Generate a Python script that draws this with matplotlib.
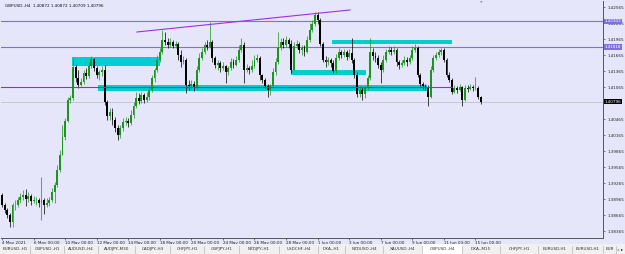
import matplotlib
matplotlib.use("Agg")
import matplotlib.pyplot as plt
from matplotlib.patches import Rectangle
from matplotlib.transforms import blended_transform_factory

# GBPUSD.,H4 candles (4 May - 15 Jun 2021)
first_open = 1.3904
closes = [1.3886, 1.3876, 1.3867, 1.3854, 1.3886, 1.3886, 1.3895, 1.3901, 1.3904, 1.3897,
          1.3903, 1.3893, 1.3895, 1.3895, 1.3889, 1.3895, 1.3886, 1.3889, 1.3895, 1.3910,
          1.3923, 1.3951, 1.3979, 1.4013, 1.4043, 1.4083, 1.4086, 1.4144, 1.4124, 1.4111,
          1.4116, 1.4133, 1.4128, 1.4146, 1.4159, 1.4143, 1.4129, 1.4135, 1.4139, 1.4079,
          1.4053, 1.4060, 1.4045, 1.4030, 1.4017, 1.4030, 1.4041, 1.4043, 1.4039, 1.4054,
          1.4071, 1.4086, 1.4081, 1.4092, 1.4083, 1.4088, 1.4101, 1.4124, 1.4139, 1.4158,
          1.4173, 1.4195, 1.4191, 1.4186, 1.4191, 1.4184, 1.4188, 1.4167, 1.4154, 1.4158,
          1.4111, 1.4109, 1.4113, 1.4107, 1.4139, 1.4161, 1.4173, 1.4186, 1.4182, 1.4191,
          1.4161, 1.4148, 1.4152, 1.4143, 1.4146, 1.4135, 1.4143, 1.4154, 1.4148, 1.4158,
          1.4176, 1.4186, 1.4139, 1.4143, 1.4139, 1.4146, 1.4158, 1.4161, 1.4129, 1.4120,
          1.4109, 1.4101, 1.4109, 1.4135, 1.4154, 1.4180, 1.4191, 1.4186, 1.4195, 1.4188,
          1.4139, 1.4184, 1.4188, 1.4176, 1.4180, 1.4173, 1.4195, 1.4214, 1.4225, 1.4242,
          1.4233, 1.4188, 1.4158, 1.4154, 1.4158, 1.4152, 1.4137, 1.4161, 1.4173, 1.4167,
          1.4173, 1.4163, 1.4171, 1.4158, 1.4129, 1.4094, 1.4101, 1.4094, 1.4105, 1.4124,
          1.4173, 1.4165, 1.4161, 1.4148, 1.4139, 1.4158, 1.4173, 1.4176, 1.4173, 1.4176,
          1.4154, 1.4148, 1.4152, 1.4158, 1.4154, 1.4161, 1.4176, 1.4180, 1.4129, 1.4113,
          1.4109, 1.4107, 1.4088, 1.4139, 1.4161, 1.4167, 1.4173, 1.4176, 1.4158, 1.4129,
          1.4120, 1.4098, 1.4105, 1.4101, 1.4107, 1.4083, 1.4105, 1.4103, 1.4107, 1.4105,
          1.4105, 1.4088, 1.40796]
highs = [1.3908, 1.3889, 1.3880, 1.3871, 1.3889, 1.3895, 1.3901, 1.3908, 1.3914, 1.3916,
         1.3910, 1.3906, 1.3903, 1.3901, 1.3899, 1.3938, 1.3899, 1.3899, 1.3901, 1.3918,
         1.3929, 1.3961, 1.3989, 1.4036, 1.4049, 1.4088, 1.4092, 1.4161, 1.4148, 1.4139,
         1.4124, 1.4139, 1.4143, 1.4154, 1.4165, 1.4161, 1.4146, 1.4139, 1.4146, 1.4148,
         1.4083, 1.4068, 1.4068, 1.4051, 1.4036, 1.4036, 1.4049, 1.4051, 1.4049, 1.4064,
         1.4079, 1.4098, 1.4096, 1.4098, 1.4096, 1.4098, 1.4105, 1.4129, 1.4143, 1.4167,
         1.4180, 1.4214, 1.4210, 1.4199, 1.4199, 1.4195, 1.4193, 1.4191, 1.4176, 1.4165,
         1.4161, 1.4120, 1.4120, 1.4118, 1.4146, 1.4171, 1.4180, 1.4191, 1.4195, 1.4229,
         1.4195, 1.4165, 1.4158, 1.4156, 1.4154, 1.4148, 1.4146, 1.4161, 1.4159, 1.4165,
         1.4186, 1.4199, 1.4191, 1.4150, 1.4146, 1.4158, 1.4167, 1.4169, 1.4165, 1.4131,
         1.4124, 1.4113, 1.4113, 1.4143, 1.4161, 1.4210, 1.4199, 1.4199, 1.4203, 1.4199,
         1.4195, 1.4191, 1.4195, 1.4191, 1.4186, 1.4186, 1.4203, 1.4227, 1.4233, 1.4248,
         1.4248, 1.4236, 1.4191, 1.4165, 1.4163, 1.4161, 1.4158, 1.4169, 1.4180, 1.4176,
         1.4178, 1.4176, 1.4178, 1.4199, 1.4161, 1.4135, 1.4109, 1.4107, 1.4109, 1.4129,
         1.4199, 1.4180, 1.4173, 1.4167, 1.4154, 1.4167, 1.4178, 1.4184, 1.4182, 1.4184,
         1.4180, 1.4158, 1.4158, 1.4165, 1.4163, 1.4167, 1.4184, 1.4188, 1.4184, 1.4133,
         1.4116, 1.4113, 1.4111, 1.4146, 1.4167, 1.4173, 1.4178, 1.4180, 1.4180, 1.4161,
         1.4135, 1.4124, 1.4111, 1.4109, 1.4113, 1.4109, 1.4111, 1.4111, 1.4113, 1.4111,
         1.4126, 1.4109, 1.4090]
lows = [1.3882, 1.3871, 1.3861, 1.3844, 1.3844, 1.3876, 1.3882, 1.3889, 1.3895, 1.3884,
        1.3891, 1.3886, 1.3889, 1.3886, 1.3882, 1.3858, 1.3869, 1.3882, 1.3884, 1.3891,
        1.3889, 1.3919, 1.3948, 1.3979, 1.4008, 1.4041, 1.4077, 1.4083, 1.4116, 1.4105,
        1.4109, 1.4113, 1.4122, 1.4124, 1.4143, 1.4137, 1.4124, 1.4120, 1.4128, 1.4073,
        1.4045, 1.4045, 1.4036, 1.4023, 1.4008, 1.4011, 1.4024, 1.4036, 1.4032, 1.4036,
        1.4049, 1.4068, 1.4075, 1.4077, 1.4077, 1.4079, 1.4083, 1.4098, 1.4116, 1.4135,
        1.4154, 1.4169, 1.4186, 1.4180, 1.4182, 1.4180, 1.4180, 1.4158, 1.4144, 1.4150,
        1.4096, 1.4101, 1.4103, 1.4099, 1.4101, 1.4135, 1.4158, 1.4169, 1.4176, 1.4180,
        1.4154, 1.4143, 1.4139, 1.4135, 1.4139, 1.4114, 1.4129, 1.4139, 1.4143, 1.4146,
        1.4154, 1.4173, 1.4114, 1.4135, 1.4131, 1.4135, 1.4143, 1.4154, 1.4120, 1.4114,
        1.4105, 1.4088, 1.4092, 1.4105, 1.4129, 1.4150, 1.4176, 1.4180, 1.4182, 1.4180,
        1.4133, 1.4139, 1.4180, 1.4171, 1.4167, 1.4165, 1.4171, 1.4191, 1.4210, 1.4221,
        1.4225, 1.4184, 1.4154, 1.4144, 1.4148, 1.4144, 1.4133, 1.4133, 1.4158, 1.4161,
        1.4163, 1.4158, 1.4161, 1.4152, 1.4124, 1.4088, 1.4088, 1.4083, 1.4086, 1.4101,
        1.4120, 1.4158, 1.4154, 1.4143, 1.4114, 1.4135, 1.4154, 1.4169, 1.4167, 1.4169,
        1.4146, 1.4141, 1.4144, 1.4148, 1.4146, 1.4150, 1.4158, 1.4173, 1.4126, 1.4109,
        1.4103, 1.4101, 1.4071, 1.4086, 1.4135, 1.4158, 1.4163, 1.4167, 1.4154, 1.4126,
        1.4116, 1.4094, 1.4096, 1.4096, 1.4099, 1.4071, 1.4081, 1.4098, 1.4101, 1.4099,
        1.4101, 1.4084, 1.4075]

time_labels = ["4 May 2021", "6 May 00:00", "10 May 00:00", "12 May 00:00", "14 May 00:00",
               "18 May 00:00", "20 May 00:00", "24 May 00:00", "26 May 00:00", "28 May 00:00",
               "1 Jun 00:00", "3 Jun 00:00", "7 Jun 00:00", "9 Jun 00:00", "11 Jun 00:00",
               "15 Jun 00:00"]
price_ticks = [1.42565, 1.42265, 1.41965, 1.41665, 1.41365, 1.41065, 1.40765, 1.40465,
               1.40165, 1.39865, 1.39565, 1.39265, 1.38965, 1.38665, 1.38365]

# drawn objects
levels = [1.42303, 1.41818]
support = (0, 171, 1.41069)
trend = [(51.3, 132.3), (1.4210, 1.42513)]
zones = [(26.6, 60.1, 1.41463, 1.41631),
         (36.5, 161.6, 1.40994, 1.41106),
         (109.9, 138.4, 1.41294, 1.41388),
         (125.5, 171.1, 1.41875, 1.41950)]
header = "GBPUSD.,H4  1.40872 1.40872 1.40709 1.40796"

tabs = ["EURUSD.,H1", "GBPUSD.,H1", "AUDUSD.,H4", "AUDJPY.,M30", "CADJPY.,H4", "CHFJPY.,H1",
        "GBPJPY.,H1", "NZDJPY.,H1", "USDCHF.,H4", "DXA-,H1", "NZDUSD.,H4", "XAUUSD.,H4",
        "GBPUSD.,H4", "DXA-,M15", "CHFJPY.,H1", "EURUSD,H1", "EURUSD,H1", "EUR"]
tab_edges = [0, 30, 64, 98, 135, 170, 204, 239, 279, 318, 345, 383, 422, 462, 500, 538,
             572, 603, 616]
active_tab = 12

bg = "#E6E6FA"
bull = "#1A961A"
bear = "#000000"
fs = 3.0

W, H = 625, 254
fig = plt.figure(figsize=(W / 100, H / 100), dpi=100, facecolor=bg)
ax = fig.add_axes([1 / W, (H - 238) / H, 602 / W, 237 / H])
ax.set_facecolor(bg)

opens = [first_open] + closes[:-1]
for i, (o, c, h, l) in enumerate(zip(opens, closes, highs, lows)):
    col = bull if c >= o else bear
    ax.vlines(i, l, h, color=col, lw=0.6, alpha=0.85, zorder=3)
    body = max(abs(c - o), 0.00004)
    ax.bar(i, body, bottom=min(o, c), width=0.72, color=col, lw=0, zorder=4)

# levels
for lv in levels:
    ax.axhline(lv, color="#7F6FE6", lw=0.8, zorder=2)
ax.axhline(closes[-1], color="#C2C2C8", lw=0.6, zorder=2)
ax.hlines(support[2], support[0] - 1, support[1], color="#A020F0", lw=0.8, zorder=5)
ax.plot(trend[0], trend[1], color="#A030E0", lw=0.8, zorder=5)
for x0, x1, lo, hi in zones:
    ax.add_patch(Rectangle((x0, lo), x1 - x0, hi - lo, color="#00CED1", lw=0, zorder=2.5))

ax.set_xlim(-0.38, 228.5)
ax.set_ylim(1.382375, 1.42681)

for s in ["top", "left"]:
    ax.spines[s].set_visible(False)
for s in ["right", "bottom"]:
    ax.spines[s].set_color("#555555")
    ax.spines[s].set_linewidth(0.7)

# the tick under the current price tag is hidden, as in the terminal
ax.yaxis.tick_right()
ax.set_yticks(price_ticks)
ax.set_yticklabels(["" if abs(p - closes[-1]) < 0.001 else f"{p:.5f}" for p in price_ticks])
ax.tick_params(axis="y", length=1.5, width=0.4, pad=1.5, labelsize=fs, colors="#222222")
ax.set_xticks(range(0, 12 * len(time_labels), 12))
ax.set_xticklabels(time_labels, ha="left")
ax.tick_params(axis="x", length=1.5, width=0.4, pad=1, labelsize=fs, colors="#222222")

# price tags on the axis
tr = blended_transform_factory(ax.transAxes, ax.transData)
for lv in levels:
    ax.text(1.003, lv, f"{lv:.5f}", transform=tr, fontsize=fs, color="white", va="center",
            ha="left", bbox=dict(boxstyle="square,pad=0.15", fc="#7F6FE6", ec="none"),
            clip_on=False, zorder=10)
ax.text(1.003, closes[-1], f"{closes[-1]:.5f}", transform=tr, fontsize=fs, color="white",
        va="center", ha="left", bbox=dict(boxstyle="square,pad=0.15", fc="black", ec="none"),
        clip_on=False, zorder=10)

ax.text(0.006, 0.978, header, transform=ax.transAxes, fontsize=fs, va="center", ha="left",
        color="#111111")
ax.text(182.5 / 228.9, 0.995, "\u25BC", transform=ax.transAxes, fontsize=2.5, color="#9A9A9A",
        ha="center", va="center")

# tab bar
tb = fig.add_axes([0, 0, 1, 10 / H])
tb.set_xlim(0, W)
tb.set_ylim(10, 0)
tb.axis("off")
tb.add_patch(Rectangle((0, 0), W, 10, color="#F0F0F0", lw=0))
for k, name in enumerate(tabs):
    a, b = tab_edges[k], tab_edges[k + 1]
    if k == active_tab:
        tb.add_patch(Rectangle((a, 0), b - a, 10, color="white", lw=0))
    tb.plot([b, b], [2, 9], color="#A8A8A8", lw=0.4)
    tb.text((a + b) / 2, 5.2, name, fontsize=fs, ha="center", va="center", color="#333333")
tb.text(618, 5.2, "\u25C2", fontsize=fs, ha="center", va="center", color="#888888")
tb.text(622, 5.2, "\u25B8", fontsize=fs, ha="center", va="center", color="#111111")

fig.savefig("out.png", dpi=100, facecolor=bg)
